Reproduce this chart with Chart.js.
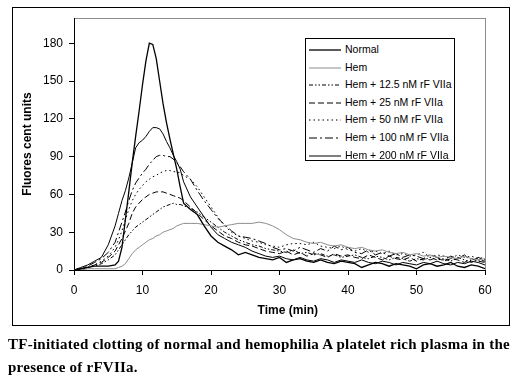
<!DOCTYPE html>
<html>
<head>
<meta charset="utf-8">
<script src="https://cdn.jsdelivr.net/npm/chart.js@4/dist/chart.umd.min.js"></script>
<style>
  html, body { margin: 0; padding: 0; background: #fff; }
  #wrap { position: relative; width: 523px; height: 384px; overflow: hidden; background: #fff; }
  #frame { position: absolute; left: 12px; top: 7px; width: 496px; height: 317px; border: 1px solid #000; }
  #c { position: absolute; left: 0; top: 0; }
  #legend { position: absolute; left: 305px; top: 38px; width: 150px; height: 123px; border: 1px solid #000; background: #fff;
            font-family: "Liberation Sans", Arial, sans-serif; font-size: 10.5px; color: #000; box-sizing: border-box; padding-top: 2px; }
  .row { position: relative; height: 17.6px; line-height: 17.6px; }
  .row svg { position: absolute; left: 3px; top: 0; }
  .row span { position: absolute; left: 39px; white-space: nowrap; }
  #caption { position: absolute; left: 8px; top: 333px; width: 515px; font-family: "Liberation Serif", "Times New Roman", serif;
             font-weight: bold; font-size: 15px; letter-spacing: 0.25px; line-height: 23px; color: #000; white-space: nowrap; }
</style>
</head>
<body>
<div id="wrap">
  <div id="frame"></div>
  <canvas id="c" width="523" height="384"></canvas>
  <div id="legend"></div>
  <div id="caption">TF-initiated clotting of normal and hemophilia A platelet rich plasma in the<br>presence of rFVIIa.</div>
</div>
<script>
// Time (min)
const time = [0,1,2,3,4,5,
  6,6.5,7,7.5,8,8.5,9,9.5,10,10.5,11,11.5,12,12.5,13,13.5,14,14.5,15,15.5,16,
  17,18,19,20,21,22,23,24,25,26,27,28,29,30,31,32,33,34,35,36,37,38,39,40,
  41,42,43,44,45,46,47,48,49,50,51,52,53,54,55,56,57,58,59,60];

const seriesNames = ["Normal","Hem","Hem + 12.5 nM rF VIIa","Hem + 25 nM rF VIIa","Hem + 50 nM rF VIIa","Hem + 100 nM rF VIIa","Hem + 200 nM rF VIIa"];

const normal = [0,1,2,3,3,3,
  4,7,18,40,62,85,106,126,147,166,180,179,168,150,132,117,104,92,80,66,53,
  48,44,35,27,22,19,16,12,14,12,10,9,8,10,6,8,9,7,6,8,6,5,7,6,
  5,2,4,6,5,3,5,4,3,1,4,5,3,4,6,3,2,4,3,1];

const hem = [0,0,1,1,1,1,
  1,2,3,5,9,13,16,18,20,22,24,25,27,28,30,31,32,33,35,36,37,
  37,37,36,35,34,35,36,37,37,37,38,37,35,32,28,25,24,22,21,22,20,19,20,18,
  17,18,16,15,16,14,13,14,12,13,11,12,10,11,10,9,11,9,8,9];

const hem12 = [0,1,2,3,5,8,
  12,16,20,24,28,31,34,36,38,40,42,44,46,48,50,51,52,53,52,52,51,
  49,46,42,38,34,30,27,24,22,20,19,17,16,15,14,16,13,14,12,13,11,12,10,11,
  12,10,9,11,10,8,10,9,7,9,8,10,8,9,7,10,8,6,8,7];

const hem25 = [0,1,2,4,6,10,
  15,20,25,31,37,45,50,53,56,58,60,61,62,62,62,61,60,59,58,57,55,
  50,45,40,35,31,27,25,22,20,19,17,15,14,13,15,12,14,11,13,12,10,13,11,12,
  10,9,12,10,8,11,9,8,10,7,9,8,10,7,9,8,6,9,7,6];

const hem50 = [0,1,2,4,7,11,
  18,24,31,40,48,55,60,64,67,70,72,74,75,77,78,79,79,78,78,77,75,
  72,66,58,50,42,35,30,27,25,23,22,20,19,18,20,21,21,20,22,19,18,17,19,16,
  15,17,14,15,13,15,12,13,11,12,14,10,12,11,9,12,10,11,9,10];

const hem100 = [0,1,3,6,9,14,
  22,30,38,46,55,63,69,73,77,80,84,87,90,91,91,90,90,88,85,82,78,
  72,63,55,48,41,36,31,27,26,25,23,21,18,16,17,15,18,16,14,17,15,19,16,18,
  14,13,16,12,14,11,13,10,12,11,9,12,10,8,11,9,12,7,10,8];

const hem200 = [0,2,4,7,10,20,
  35,45,55,63,73,85,97,101,103,106,110,113,113,112,108,102,97,91,86,80,70,
  58,50,42,34,28,25,22,20,18,15,13,11,10,11,9,8,10,8,7,9,8,6,8,7,
  6,8,6,5,7,6,4,6,5,4,6,5,7,5,4,6,5,7,6,4];

const yTicks = [0,30,60,90,120,150,180];
const xTicks = [0,10,20,30,40,50,60];

const styles = [
  {color:"#000", width:1.3, dash:[]},
  {color:"#8c8c8c", width:1, dash:[]},
  {color:"#000", width:1, dash:[4,2,1.5,2,1.5,2]},
  {color:"#000", width:1, dash:[6,3]},
  {color:"#000", width:1, dash:[1.5,3]},
  {color:"#000", width:1, dash:[8,3,2,3]},
  {color:"#000", width:1, dash:[]}
];
const allSeries = [normal, hem, hem12, hem25, hem50, hem100, hem200];

const datasets = allSeries.map((s, k) => ({
  label: seriesNames[k],
  data: s.map((v, i) => ({x: time[i], y: v})),
  borderColor: styles[k].color,
  borderWidth: styles[k].width,
  borderDash: styles[k].dash,
  pointRadius: 0,
  tension: 0,
  fill: false
}));

// legend (HTML)
const leg = document.getElementById('legend');
seriesNames.forEach((n, k) => {
  const st = styles[k];
  const row = document.createElement('div');
  row.className = 'row';
  row.innerHTML = '<svg width="33" height="17.6"><line x1="0" y1="9" x2="32" y2="9" stroke="' + st.color +
    '" stroke-width="' + st.width + '" stroke-dasharray="' + (st.dash.length ? st.dash.join(',') : 'none') + '"/></svg><span>' + n + '</span>';
  leg.appendChild(row);
});

const frameRect = {
  id: 'frameRect',
  beforeDraw(chart) {
    const a = chart.chartArea, ctx = chart.ctx;
    ctx.save();
    ctx.strokeStyle = '#8c8c8c';
    ctx.lineWidth = 1;
    ctx.strokeRect(Math.round(a.left) + 0.5, Math.round(a.top) + 0.5, Math.round(a.right - a.left), Math.round(a.bottom - a.top));
    ctx.restore();
  }
};

const font = {family: '"Liberation Sans", Arial, sans-serif', size: 12};
new Chart(document.getElementById('c'), {
  type: 'line',
  data: { datasets },
  plugins: [frameRect],
  options: {
    responsive: false,
    animation: false,
    layout: { padding: { left: 16, top: 18, right: 38, bottom: 66 } },
    plugins: { legend: { display: false }, tooltip: { enabled: false } },
    scales: {
      x: {
        type: 'linear', min: 0, max: 60,
        afterFit(s) { s.height = 48; },
        afterBuildTicks(s) { s.ticks = xTicks.map(v => ({value: v})); },
        ticks: { color: '#000', font, padding: 8, maxRotation: 0 },
        grid: { drawOnChartArea: false, drawTicks: true, tickLength: 5, color: '#000' },
        border: { color: '#000', width: 1 },
        title: { display: true, text: '\u00a0\u00a0\u00a0\u00a0\u00a0Time (min)', color: '#000',
                 font: {family: font.family, size: 12, weight: 'bold'}, padding: {top: 0, bottom: 0} }
      },
      y: {
        type: 'linear', min: 0, max: 200,
        afterFit(s) { s.width = 58; },
        afterBuildTicks(s) { s.ticks = yTicks.map(v => ({value: v})); },
        ticks: { color: '#000', font, padding: 6 },
        grid: { drawOnChartArea: false, drawTicks: true, tickLength: 5, color: '#000' },
        border: { color: '#000', width: 1 },
        title: { display: true, text: 'Fluores cent units', color: '#000',
                 font: {family: font.family, size: 12, weight: 'bold'}, padding: {top: 4, bottom: 0} }
      }
    }
  }
});
</script>
</body>
</html>
